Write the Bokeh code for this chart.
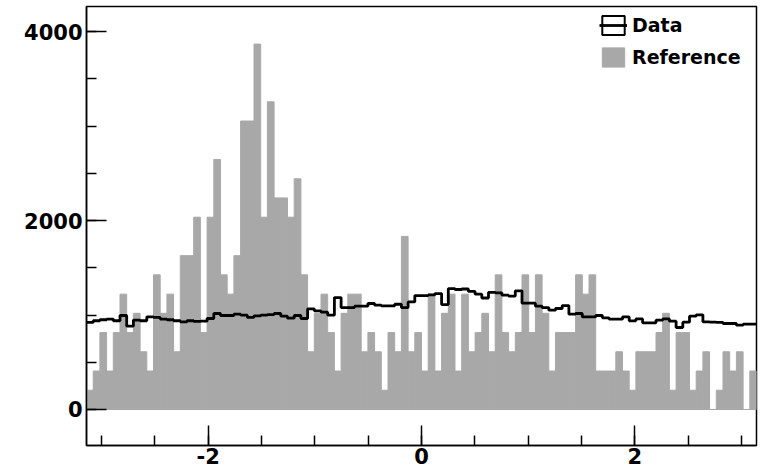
import numpy as np
from bokeh.plotting import figure
from bokeh.models import Range1d, SingleIntervalTicker, Legend, LegendItem
from bokeh.embed import file_html
from bokeh.resources import INLINE

# ---- data ----
N_BINS = 100
X_MIN, X_MAX = -np.pi, np.pi

reference_counts = [
    204, 407, 814, 407, 814, 1221, 814, 1018, 611, 407,
    1425, 1018, 1221, 611, 1628, 1628, 2035, 814, 2035, 2646,
    1425, 1221, 1628, 3053, 3053, 3867, 2035, 3256, 2239, 2239,
    2035, 2442, 1425, 611, 1018, 1221, 814, 407, 1018, 1221,
    1221, 611, 814, 611, 204, 814, 611, 1832, 611, 814,
    407, 1221, 407, 1018, 1221, 407, 1221, 611, 814, 1018,
    611, 1425, 814, 611, 814, 1425, 814, 1425, 1018, 407,
    814, 814, 814, 1425, 1221, 1425, 407, 407, 407, 611,
    407, 204, 611, 611, 611, 814, 1018, 204, 814, 814,
    204, 407, 611, 0, 204, 611, 407, 611, 0, 407,
]

data_counts = [
    921, 939, 950, 957, 939, 995, 882, 946, 939, 981,
    974, 957, 950, 939, 928, 939, 932, 935, 963, 1016,
    995, 995, 1009, 998, 975, 991, 998, 1005, 1016, 988,
    967, 995, 963, 1065, 1044, 1030, 998, 1185, 1079, 1079,
    1093, 1093, 1122, 1104, 1097, 1097, 1114, 1079, 1139, 1206,
    1206, 1213, 1227, 1110, 1280, 1270, 1275, 1250, 1220, 1180,
    1240, 1235, 1210, 1200, 1256, 1125, 1125, 1093, 1079, 1051,
    1069, 1100, 1009, 1016, 980, 980, 995, 970, 956, 956,
    980, 938, 959, 917, 917, 945, 959, 935, 868, 924,
    988, 1002, 928, 924, 921, 910, 910, 892, 903, 903,
]

x_tick_labels = {-2: "-2", 0: "0", 2: "2"}
series_names = ["Data", "Reference"]

edges = np.linspace(X_MIN, X_MAX, N_BINS + 1)

p = figure(width=764, height=472,
           x_range=Range1d(X_MIN, X_MAX), y_range=Range1d(-381, 4265),
           output_backend="svg", toolbar_location=None,
           min_border_left=86, min_border_right=8,
           min_border_top=6, min_border_bottom=27)

p.background_fill_color = "white"
p.border_fill_color = "white"
p.outline_line_color = "black"
p.outline_line_width = 1.5
p.xgrid.visible = False
p.ygrid.visible = False

GRAY = "#a8a8a8"
ref = p.quad(left=edges[:-1], right=edges[1:], bottom=0, top=reference_counts,
             fill_color=GRAY, line_color=GRAY, line_width=1)

box = p.quad(left=edges[:-1], right=edges[1:], bottom=0, top=data_counts,
             fill_color="white", line_color="black", line_width=2, visible=False)

step = p.step(x=edges, y=list(data_counts) + [data_counts[-1]], mode="after",
              line_color="black", line_width=2.8)

# axes
p.xaxis.ticker = SingleIntervalTicker(interval=2, num_minor_ticks=4)
p.yaxis.ticker = SingleIntervalTicker(interval=2000, num_minor_ticks=4)
p.xaxis.major_label_overrides = x_tick_labels
for ax in (p.xaxis, p.yaxis):
    ax.major_tick_in = 20
    ax.major_tick_out = 0
    ax.minor_tick_in = 10
    ax.minor_tick_out = 0
    ax.major_tick_line_color = "black"
    ax.minor_tick_line_color = "black"
    ax.major_tick_line_width = 1.5
    ax.minor_tick_line_width = 1.5
    ax.axis_line_color = "black"
    ax.axis_line_width = 1.5
    ax.major_label_text_font = "DejaVu Sans"
    ax.major_label_text_font_style = "bold"
    ax.major_label_text_font_size = "21px"
    ax.major_label_text_color = "black"
p.xaxis.major_label_standoff = 2
p.yaxis.major_label_standoff = 4

legend = Legend(items=[LegendItem(label=series_names[0], renderers=[box, step]),
                       LegendItem(label=series_names[1], renderers=[ref])],
                location=(513, 376), orientation="vertical",
                glyph_width=28, glyph_height=24, label_standoff=5,
                spacing=8, padding=0, margin=0,
                background_fill_alpha=0, border_line_alpha=0,
                label_text_font="DejaVu Sans", label_text_font_style="bold",
                label_text_font_size="19px", label_text_color="black")
p.add_layout(legend)

open("out.html", "w").write(file_html(p, INLINE))
